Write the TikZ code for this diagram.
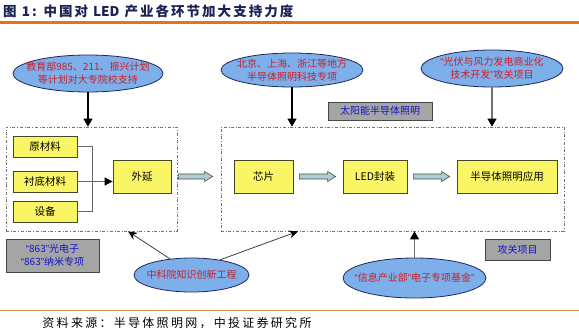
\documentclass[tikz,border=0pt]{standalone}
\usepackage{fontspec}
\setmainfont{Noto Sans CJK SC}
\newfontfamily\latinq{Liberation Sans}
\newcommand\oq{{\latinq “}}
\newcommand\cq{{\latinq ”}}
\usetikzlibrary{shapes.geometric,arrows.meta,calc}
\definecolor{ellfill}{RGB}{125,175,235}
\definecolor{elldraw}{RGB}{30,40,90}
\definecolor{redtxt}{RGB}{205,30,40}
\definecolor{bluetxt}{RGB}{20,20,200}
\definecolor{yelfill}{RGB}{250,245,100}
\definecolor{yeldraw}{RGB}{70,70,40}
\definecolor{grayfill}{RGB}{165,165,165}
\definecolor{graydraw}{RGB}{70,70,70}
\definecolor{orangeline}{RGB}{230,115,25}
\definecolor{orangethin}{RGB}{215,145,85}
\definecolor{titlecol}{RGB}{25,35,85}
\definecolor{arrfill}{RGB}{175,205,210}
\tikzset{
  ell/.style={ellipse,draw=elldraw,fill=ellfill,line width=0.8pt,inner sep=0pt},
  elltxt/.style={text=redtxt,font=\fontsize{10}{13}\selectfont,align=center,inner sep=0pt},
  ybox/.style={draw=yeldraw,fill=yelfill,line width=0.8pt,inner sep=0pt,font=\fontsize{10.5}{13}\selectfont},
  gbox/.style={draw=graydraw,fill=grayfill,line width=0.8pt,inner sep=0pt,text=bluetxt,align=center,font=\fontsize{10}{13}\selectfont},
  dbox/.style={draw=black!55,dash dot,line width=0.7pt,inner sep=0pt},
  arrblack/.style={black,line width=1.1pt,-{Triangle[length=8pt,width=9pt]}},
  arrgray/.style={black!55,line width=1.1pt,-{Triangle[length=8pt,width=9pt,color=black]}},
  arrdiag/.style={black!75,line width=0.8pt,-{Stealth[length=9pt,width=8pt,color=black]}},
  conn/.style={black!60,line width=0.8pt},
  blockarr/.style={draw=black!70,fill=arrfill,line width=0.6pt}
}
\newcommand\blockarrow[2]{%
  \draw[blockarr] let \p1=(#1), \p2=(#2) in
   (\x1,\y1+2.5pt) -- (\x2-8pt,\y1+2.5pt) -- (\x2-8pt,\y1+5pt) -- (\x2,\y1)
   -- (\x2-8pt,\y1-5pt) -- (\x2-8pt,\y1-2.5pt) -- (\x1,\y1-2.5pt) -- cycle;}
\begin{document}
\begin{tikzpicture}[x=1pt,y=-1pt]
\useasboundingbox (0,0) rectangle (579,333);
\fill[white] (0,0) rectangle (579,333);
% title
\node[anchor=west,inner sep=0pt,text=titlecol,font=\fontsize{13.5}{15}\selectfont\bfseries] (title) at (3,11) {{\addfontfeature{LetterSpace=15}图 1: 中国对}\hspace{5pt}LED\hspace{5pt}{\addfontfeature{LetterSpace=15}产业各环节加大支持力度}};
\draw[orangeline,line width=3pt] (0,22.3) -- (579,22.3);
\draw[orangethin,line width=0.9pt] (0,310) -- (579,310);
\node[inner sep=0pt,font=\fontsize{12}{14}\selectfont\addfontfeature{LetterSpace=19}] (src) at (177,323) {资料来源：半导体照明网，中投证券研究所};
% dashed boxes
\node[dbox,minimum width=171pt,minimum height=104pt] (lbox) at (91.5,179) {};
\node[dbox,minimum width=343pt,minimum height=104pt] (rbox) at (392.5,179) {};
% yellow boxes
\node[ybox,minimum width=64pt,minimum height=21pt] (y1) at (45,146.5) {原材料};
\node[ybox,minimum width=64pt,minimum height=21pt] (y2) at (45,181.5) {衬底材料};
\node[ybox,minimum width=64pt,minimum height=21pt] (y3) at (45,211.5) {设备};
\node[ybox,minimum width=58pt,minimum height=33pt] (wy) at (142,176.5) {外延};
\node[ybox,minimum width=59pt,minimum height=33pt] (cp) at (263.5,176.5) {芯片};
\node[ybox,minimum width=64pt,minimum height=33pt] (led) at (375,176.5) {LED封装};
\node[ybox,minimum width=100pt,minimum height=33pt] (app) at (507,176.5) {半导体照明应用};
% gray boxes
\node[gbox,minimum width=104pt,minimum height=18pt] (g1) at (380,111) {太阳能半导体照明};
\node[gbox,minimum width=93pt,minimum height=33pt] (g2) at (52.5,255.5) {\oq 863\cq 光电子\\\oq 863\cq 纳米专项};
\node[gbox,minimum width=65pt,minimum height=21pt] (g3) at (517.5,249.5) {攻关项目};
% ellipses
\node[ell,minimum width=150pt,minimum height=37pt] (e1) at (88,73.5) {};
\node[elltxt] (e1t) at (e1) {教育部985、211、振兴计划\\等计划对大专院校支持};
\node[ell,minimum width=142pt,minimum height=34pt] (e2) at (292,70) {};
\node[elltxt] (e2t) at (e2) {北京、上海、浙江等地方\\半导体照明科技专项};
\node[ell,minimum width=142pt,minimum height=37pt] (e3) at (492,68.5) {};
\node[elltxt] (e3t) at (e3) {\oq 光伏与风力发电商业化\\技术开发\cq 攻关项目};
\node[ell,minimum width=115pt,minimum height=34pt] (e5) at (191.5,275) {};
\node[elltxt] (e5t) at (e5) {中科院知识创新工程};
\node[ell,minimum width=143pt,minimum height=40pt] (e4) at (414.5,278) {};
\node[elltxt] (e4t) at (e4) {\oq 信息产业部\cq 电子专项基金\cq};
% connectors
\draw[conn] (y1.east) -- ++(15,0) |- (y3.east);
\draw[conn,-{Triangle[length=8pt,width=8pt,color=black]}] (y2.east) -- (y2.east -| wy.west);
\draw[arrblack] (e1.south) -- (e1.south |- lbox.north);
\draw[arrblack] (e2.south) -- (e2.south |- rbox.north);
\draw[arrgray] (e3.south) -- (e3.south |- rbox.north);
\draw[arrgray] (e4.north) -- (e4.north |- rbox.south);
\draw[arrdiag] (e5.143) -- ([xshift=36.5pt]lbox.south);
\draw[arrdiag] (e5.28) -- ([xshift=-94.5pt]rbox.south);
% block arrows
\blockarrow{$(lbox.east |- wy.east)+(1pt,0)$}{$(rbox.west |- wy.east)+(-8pt,0)$}
\blockarrow{$(cp.east)+(6pt,0)$}{$(led.west)+(-7pt,0)$}
\blockarrow{$(led.east)+(6pt,0)$}{$(app.west)+(-7pt,0)$}
\end{tikzpicture}
\end{document}
